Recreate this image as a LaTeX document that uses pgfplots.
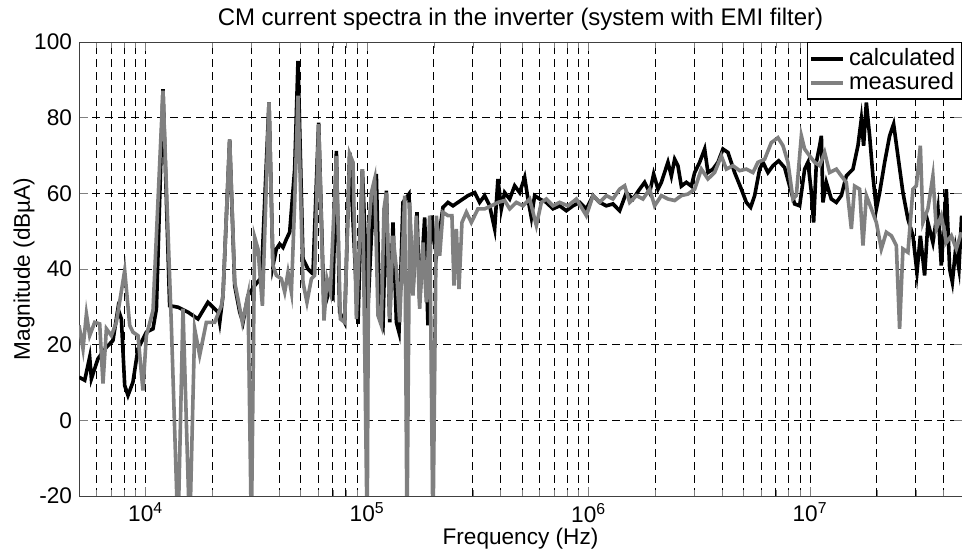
\documentclass[border=0pt]{standalone}
\usepackage{fontspec}
\setmainfont{Liberation Sans}
\usepackage{pgfplots}
\usepackage{pgfplotstable}
\pgfplotsset{compat=1.18}

% calculated CM current spectrum (f in Hz, dBuA)
\pgfplotstableread{
f y
5000 11.4
5305 10.6
5587 16.7
5687 11.0
6090 16.3
6646 19.3
7117 21.1
7496 29.5
7767 26.8
8040 9.2
8320 6.6
8760 10.1
9230 18.9
10070 23.3
10790 24.2
11180 29.5
11970 87.5
12830 30.3
13990 29.9
15520 28.6
17220 26.8
19110 31.2
21200 28.6
21590 25.9
22340 33.0
23940 74.1
25230 35.6
26580 28.6
27500 25.9
28970 33.0
31050 35.6
33300 37.8
36040 84.0
37560 40.9
38920 45.3
40270 46.6
41680 45.7
43180 47.9
44680 49.7
47070 66.4
48710 95.0
51310 42.7
54040 40.0
56920 38.7
60390 78.7
63830 29.5
67700 34.7
70060 33.0
72610 71.2
75130 28.6
79130 25.9
83370 70.8
90900 25.5
95130 66.4
100800 29.5
104500 48.8
110000 65.1
113900 27.7
117900 25.1
122100 60.7
126400 25.9
130800 52.3
135500 25.9
139200 23.3
145100 57.6
154400 59.8
161000 33.9
167800 55.0
172600 31.2
181800 53.6
188200 25.1
194900 54.1
205300 43.5
219900 56.3
231600 57.6
244000 56.7
257000 57.6
270700 58.5
285200 59.4
305700 60.2
322000 57.6
339200 59.4
357300 56.7
376400 50.6
389500 63.8
403600 55.9
417600 60.2
439900 58.5
463400 62.0
488100 60.2
514200 64.2
532100 58.5
551200 53.6
570400 59.4
600900 58.5
644200 57.6
690000 55.9
739800 56.7
793000 55.4
849600 56.7
910800 57.6
976300 55.9
1046000 59.4
1121000 57.6
1202000 56.7
1287000 57.2
1380000 55.4
1480000 60.2
1585000 58.5
1699000 61.1
1790000 62.9
1886000 60.2
1966000 65.1
2056000 61.1
2129000 62.9
2280000 68.2
2363000 64.6
2445000 69.0
2530000 67.3
2621000 61.9
2761000 62.9
2909000 61.9
3011000 65.5
3170000 68.2
3340000 71.7
3456000 65.5
3641000 66.4
3835000 68.2
4040000 71.7
4256000 70.8
4561000 65.5
4891000 61.1
5152000 57.6
5388000 56.3
5617000 59.4
5916000 66.4
6122000 68.2
6449000 65.5
6795000 67.3
7210000 68.6
7672000 66.8
8080000 61.9
8511000 57.2
8966000 56.7
9445000 66.4
9775000 68.2
10130000 60.2
10370000 52.3
10670000 68.2
11040000 72.6
11240000 75.2
11420000 57.6
11830000 62.9
12460000 58.5
13130000 57.6
13830000 59.4
14570000 64.6
15610000 66.4
16440000 72.6
17030000 79.6
17440000 72.6
17940000 84.0
18560000 75.2
19210000 64.6
19910000 55.9
20600000 60.2
21700000 68.2
22850000 75.2
23820000 78.3
24910000 69.9
26240000 60.2
27640000 53.2
29120000 48.8
30360000 39.1
31450000 48.8
32880000 38.3
34020000 52.3
35840000 47.0
37760000 55.9
39110000 40.9
41200000 61.1
42650000 40.0
43860000 36.5
45390000 45.3
46970000 40.0
48310000 54.1
}\calcdata

% measured CM current spectrum
\pgfplotstableread{
f y
5000 25.1
5212 18.9
5400 28.1
5587 22.4
5886 25.9
6200 25.5
6415 9.7
6646 24.2
7000 22.4
7373 25.9
8040 39.6
8470 25.1
8760 23.3
9230 22.4
9720 7.9
10070 22.4
10790 29.0
11970 87.1
13060 25.1
13990 -30
14740 29.5
15800 -30
16640 24.2
17530 17.2
18790 25.9
20490 25.9
21970 30.3
22340 33.0
23940 74.3
25230 36.5
26100 32.1
27330 25.9
28970 33.0
30000 -30
31050 48.4
32140 45.3
33650 30.3
36040 84.0
37560 40.9
38920 38.3
41000 37.4
42430 33.9
43910 39.1
45490 33.9
47070 57.6
48710 85.8
51310 36.5
53480 31.2
55990 37.4
57940 38.3
60390 78.3
63830 26.4
65850 37.4
68220 33.9
72610 69.9
75680 26.8
79130 25.9
83370 70.4
86290 68.2
89390 26.8
95130 66.4
100000 -30
101600 50.6
104500 60.2
108100 63.8
111900 27.7
115900 25.1
119100 55.9
122100 60.2
126400 26.8
130800 48.8
135500 40.0
140200 25.9
147700 59.4
151300 -30
155600 57.6
161000 33.0
166800 54.1
172600 29.5
178600 47.0
185000 31.2
191500 54.1
198200 -30
205300 54.1
212500 43.5
219900 55.0
231600 54.1
241400 54.1
246500 35.6
252700 50.6
259700 34.7
267900 52.3
280500 55.0
295400 52.3
316400 55.9
339200 55.9
363700 56.7
389500 57.6
417600 58.1
439900 55.9
471700 57.6
505000 56.7
541500 58.5
580600 51.5
611500 57.6
644200 58.5
690000 56.7
739800 57.6
806300 56.7
880100 58.5
976300 54.1
1046000 59.4
1121000 57.6
1202000 59.4
1287000 58.5
1380000 61.1
1454000 62.0
1532000 57.6
1642000 59.4
1759000 58.5
1886000 61.1
1986000 56.7
2129000 59.4
2280000 58.5
2445000 58.1
2621000 59.4
2807000 59.8
3011000 61.1
3227000 66.4
3456000 63.8
3706000 65.5
3972000 69.9
4185000 66.4
4483000 67.3
4806000 66.0
5152000 66.4
5519000 65.5
5812000 68.2
6231000 69.0
6680000 73.4
7155000 74.7
7540000 72.6
7939000 68.2
8362000 58.5
8663000 59.4
9127000 75.2
9445000 71.7
9947000 69.9
10480000 68.2
11040000 67.3
11630000 70.8
12240000 65.5
13130000 66.4
13830000 64.6
14570000 62.9
15350000 50.6
15880000 61.9
16730000 61.1
17320000 46.2
17940000 59.4
18900000 55.9
19910000 52.3
20960000 45.3
22080000 49.7
23260000 48.8
24500000 46.2
25350000 24.2
26240000 45.3
27640000 44.4
29120000 61.1
30170000 62.0
31450000 72.6
32310000 52.3
34020000 55.9
35840000 64.6
37130000 50.6
39110000 54.1
41200000 47.0
43410000 48.8
45710000 45.3
48150000 49.7
}\measdata

\begin{document}
\begin{tikzpicture}
\begin{axis}[
  scale only axis,
  width=441.5pt, height=227pt,
  xmode=log,
  xmin=5000, xmax=4.85e7,
  ymin=-20, ymax=100,
  ytick={-20,0,20,40,60,80,100},
  xtick={1e4,1e5,1e6,1e7},
  xticklabels={10\textsuperscript{4},10\textsuperscript{5},10\textsuperscript{6},10\textsuperscript{7}},
  minor xtick={6e3,7e3,8e3,9e3,2e4,3e4,4e4,5e4,6e4,7e4,8e4,9e4,2e5,3e5,4e5,5e5,6e5,7e5,8e5,9e5,2e6,3e6,4e6,5e6,6e6,7e6,8e6,9e6,2e7,3e7,4e7},
  xmajorgrids, xminorgrids, ymajorgrids,
  grid style={black, line width=0.4pt, dash pattern=on 4pt off 2.5pt},
  minor grid style={black, line width=0.4pt, dash pattern=on 4pt off 2.5pt},
  tick align=inside,
  axis line style={black!75},
  font=\fontsize{11.3}{13}\selectfont,
  /pgf/number format/assume math mode=true,
  title={CM current spectra in the inverter (system with EMI filter)},
  title style={yshift=-4pt, font=\fontsize{12}{14}\selectfont},
  xlabel={Frequency (Hz)},
  ylabel={Magnitude (dBµA)},
  xlabel style={yshift=4pt},
  ylabel style={yshift=-7pt},
  legend style={at={(1,1)}, anchor=north east, draw=black, line width=0.7pt,
    font=\fontsize{11.8}{13}\selectfont, inner sep=1pt, row sep=-2pt,
    legend cell align=left},
  legend image code/.code={\draw[#1] (0pt,0pt) -- (16pt,0pt);},
]
\addplot[black, line width=1.8pt] table[x=f, y=y] {\calcdata};
\addlegendentry{calculated}
\addplot[gray, line width=1.8pt] table[x=f, y=y] {\measdata};
\addlegendentry{measured}
\coordinate (sw) at (rel axis cs:0,0);
\coordinate (ne) at (rel axis cs:1,1);
\end{axis}
\pgfresetboundingbox
\path ([xshift=-39.5pt, yshift=-29pt]sw) rectangle ([yshift=21pt]ne);
\end{tikzpicture}
\end{document}
